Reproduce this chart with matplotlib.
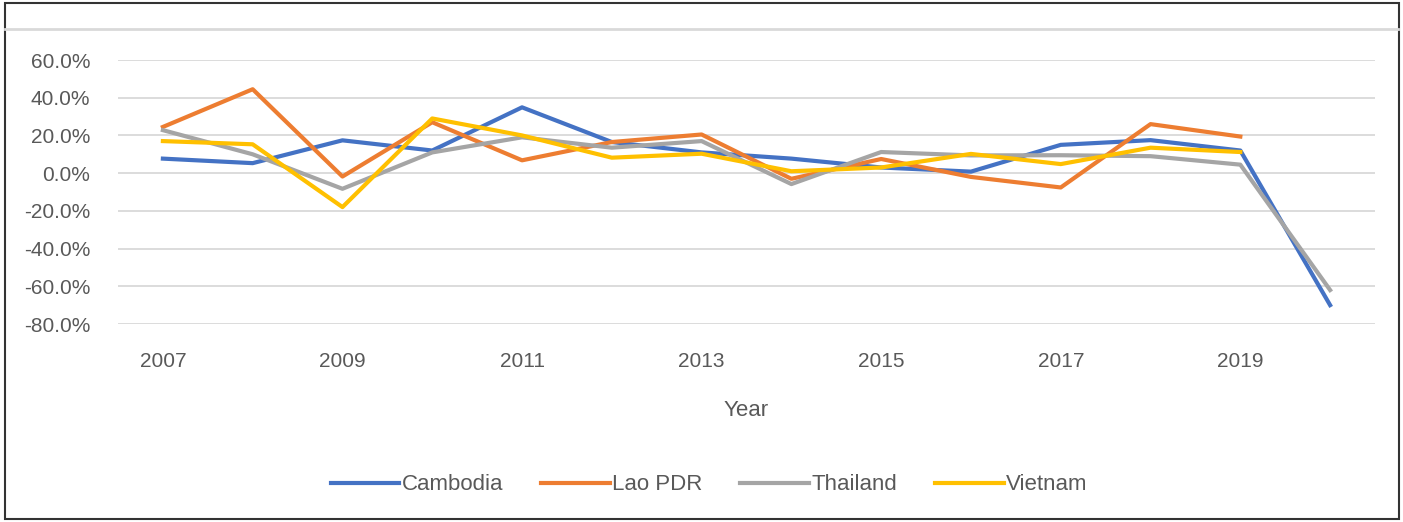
import matplotlib
matplotlib.use('Agg')
import matplotlib.pyplot as plt
from matplotlib.ticker import PercentFormatter
from matplotlib.lines import Line2D
from matplotlib.patches import Rectangle

plt.rcParams['font.family'] = ['Liberation Sans', 'DejaVu Sans']
plt.rcParams['axes.unicode_minus'] = False

# growth rates in percent
years = list(range(2007, 2021))
cambodia = [7.7, 5.3, 17.4, 12.0, 34.9, 16.5, 11.0, 7.7, 3.0, 0.8, 15.0, 17.5, 12.0, -70.0]
lao_pdr = [24.5, 44.5, -1.8, 27.0, 6.8, 16.5, 20.5, -3.0, 7.5, -2.0, -7.6, 26.0, 19.4]
thailand = [22.8, 10.0, -8.3, 11.0, 19.0, 13.5, 17.0, -5.8, 11.2, 9.4, 9.5, 9.0, 4.5, -62.0]
vietnam = [17.0, 15.3, -18.0, 29.0, 20.0, 8.2, 10.3, 1.0, 3.0, 10.2, 4.8, 13.5, 11.2]

series = [
    ('Cambodia', cambodia, '#4472C4'),
    ('Lao PDR', lao_pdr, '#ED7D31'),
    ('Thailand', thailand, '#A5A5A5'),
    ('Vietnam', vietnam, '#FFC000'),
]

txt = '#595959'

fig = plt.figure(figsize=(14.03, 5.22), dpi=100)
ax = fig.add_axes([118 / 1403, 1 - 324 / 522, (1375 - 118) / 1403, (324 - 60) / 522])

for name, vals, col in series:
    ax.plot(years[:len(vals)], vals, color=col, lw=3.0, label=name, solid_joinstyle='round')

ax.set_xlim(2006.5, 2020.5)
ax.set_ylim(-80, 60)
ax.set_yticks(range(-80, 61, 20))
ax.set_xticks(range(2007, 2020, 2))
ax.yaxis.set_major_formatter(PercentFormatter(100, decimals=1))
ax.grid(axis='y', color='#D9D9D9', lw=1.3)
ax.set_axisbelow(True)
for s in ax.spines.values():
    s.set_visible(False)
ax.tick_params(length=0, labelsize=15, labelcolor=txt)
ax.tick_params(axis='y', pad=20)
ax.tick_params(axis='x', pad=20)
ax.set_xlabel('Year', fontsize=16, color=txt, labelpad=21)

handles = [Line2D([], [], color=c, lw=3.0) for _, _, c in series]
fig.legend(handles, [n for n, _, _ in series], loc='center', bbox_to_anchor=(709 / 1403, 1 - 485 / 522),
           ncol=4, frameon=False, fontsize=16, handlelength=3.1, handletextpad=0.1,
           columnspacing=1.7, labelcolor=txt)

# light separator line near the top and the outer frame
fig.add_artist(Line2D([5 / 1403, 1398 / 1403], [1 - 29 / 522, 1 - 29 / 522], color='#D9D9D9', lw=2))
fig.add_artist(Rectangle((5 / 1403, 3 / 522), 1394 / 1403, 516 / 522, fill=False,
                         edgecolor='#333333', lw=1.5, transform=fig.transFigure))

fig.savefig('out.png', dpi=100)
